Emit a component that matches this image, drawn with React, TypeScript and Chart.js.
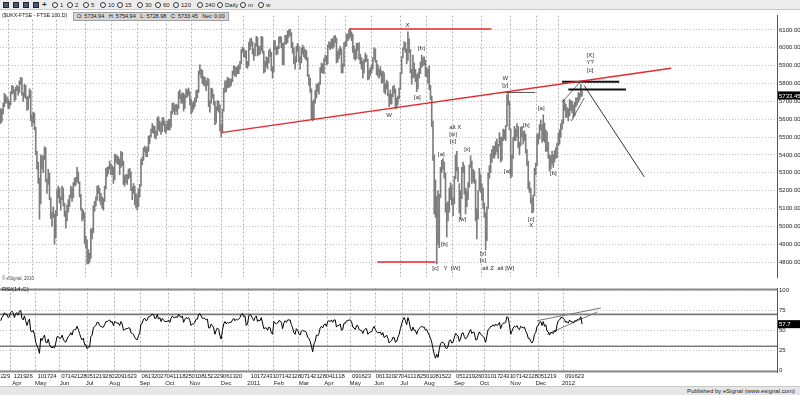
import React, { useEffect, useRef } from "react";
import { Chart, registerables } from "chart.js";
Chart.register(...registerables);

// ---------------- DATA ----------------
const HOLIDAYS = [
  "2010-04-02", "2010-04-05", "2010-05-03", "2010-05-31", "2010-08-30", "2010-12-27", "2010-12-28",
  "2011-01-03", "2011-04-22", "2011-04-25", "2011-04-29", "2011-05-02", "2011-05-30", "2011-08-29",
  "2011-12-26", "2011-12-27", "2012-01-02",
];
const MONTHS = ["Jan", "Feb", "Mar", "Apr", "May", "Jun", "Jul", "Aug", "Sep", "Oct", "Nov", "Dec"];

const highs = [
  // 2010 Mar
  5660, 5655, 5690, 5745, 5735, 5725, 5715, 5700,
  // Apr
  5755, 5790, 5785, 5765, 5780, 5790, 5780, 5815, 5835, 5830, 5750, 5795, 5790, 5725, 5730, 5770, 5760, 5625, 5640, 5635,
  // May
  5555, 5420, 5360, 5270, 5400, 5395, 5395, 5445, 5440, 5265, 5320, 5300, 5160, 5080, 5110, 5070, 5090, 5205, 5225,
  // Jun
  5215, 5165, 5225, 5215, 5130, 5085, 5120, 5150, 5175, 5225, 5215, 5245, 5270, 5275, 5330, 5305, 5250, 5180, 5100, 5090, 5075, 4945,
  // Jul
  4925, 4870, 4850, 4985, 4990, 5115, 5140, 5165, 5225, 5230, 5215, 5185, 5165, 5155, 5225, 5325, 5330, 5335, 5365, 5350, 5340, 5330,
  // Aug
  5405, 5400, 5395, 5390, 5375, 5420, 5415, 5365, 5285, 5290, 5290, 5320, 5325, 5305, 5220, 5240, 5225, 5185, 5175, 5210, 5235,
  // Sep
  5375, 5390, 5440, 5450, 5440, 5445, 5505, 5510, 5545, 5575, 5565, 5560, 5535, 5610, 5615, 5590, 5580, 5610, 5610, 5590, 5570, 5590,
  // Oct
  5600, 5600, 5645, 5690, 5690, 5680, 5685, 5680, 5755, 5765, 5740, 5750, 5745, 5735, 5770, 5765, 5775, 5755, 5715, 5690, 5700,
  // Nov
  5720, 5760, 5765, 5870, 5905, 5880, 5875, 5840, 5835, 5815, 5830, 5825, 5705, 5775, 5770, 5740, 5700, 5670, 5705, 5700, 5680, 5570,
  // Dec
  5655, 5775, 5815, 5815, 5835, 5830, 5825, 5825, 5870, 5900, 5895, 5890, 5895, 5905, 5925, 5990, 6005, 6000, 5985, 5985, 5925,
  // 2011 Jan
  6030, 6050, 6055, 6035, 5995, 6025, 6065, 6060, 6010, 6010, 6065, 6060, 5980, 5925, 5950, 5945, 5985, 5995, 5975, 5895,
  // Feb
  6040, 6040, 6005, 6010, 6060, 6065, 6060, 6025, 6030, 6070, 6070, 6095, 6100, 6105, 6085, 6030, 6000, 5950, 6010, 6025,
  // Mar
  6010, 5950, 6000, 6015, 6005, 5990, 5985, 5945, 5850, 5830, 5770, 5700, 5710, 5760, 5795, 5800, 5805, 5890, 5915, 5910, 5940, 5960, 5955,
  // Apr
  6015, 6035, 6030, 6050, 6050, 6065, 6070, 6055, 5980, 5995, 6010, 5995, 5910, 6030, 6035, 6075, 6080, 6100,
  // May
  6105, 6090, 6075, 6010, 5990, 6025, 6025, 6030, 5965, 5945, 5925, 5935, 5970, 5960, 5935, 5875, 5890, 5905, 5945, 6000,
  // Jun
  5995, 5930, 5905, 5880, 5895, 5870, 5870, 5860, 5800, 5820, 5810, 5745, 5765, 5740, 5785, 5790, 5770, 5720, 5730, 5775, 5860, 5950,
  // Jul
  6000, 6035, 6030, 5995, 6090, 6050, 5990, 5880, 5960, 5915, 5880, 5850, 5860, 5885, 5920, 5960, 5945, 5950, 5930, 5890, 5880,
  // Aug
  5900, 5790, 5730, 5590, 5400, 5260, 5170, 5200, 5180, 5330, 5370, 5380, 5360, 5300, 5130, 5140, 5215, 5245, 5230, 5160, 5280, 5400,
  // Sep
  5420, 5330, 5240, 5200, 5330, 5360, 5340, 5215, 5200, 5245, 5345, 5395, 5365, 5320, 5310, 5260, 5100, 5200, 5325, 5290, 5240, 5215,
  // Oct
  5130, 5075, 5110, 5300, 5340, 5405, 5430, 5450, 5450, 5475, 5490, 5460, 5525, 5500, 5500, 5545, 5540, 5565, 5735, 5750, 5700,
  // Nov
  5545, 5400, 5500, 5560, 5545, 5575, 5560, 5470, 5555, 5560, 5530, 5535, 5515, 5430, 5365, 5250, 5215, 5160, 5175, 5325, 5355, 5515,
  // Dec
  5520, 5570, 5595, 5570, 5625, 5580, 5540, 5530, 5470, 5400, 5395, 5420, 5400, 5425, 5440, 5465, 5520, 5540, 5575, 5595,
  // 2012 Jan
  5710, 5705, 5685, 5665, 5660, 5710, 5705, 5700, 5680, 5695, 5720, 5720, 5750, 5745, 5795, 5755,
];

const lows = [
  // 2010 Mar
  5575, 5585, 5630, 5670, 5690, 5690, 5660, 5660,
  // Apr
  5680, 5740, 5745, 5700, 5710, 5760, 5735, 5750, 5795, 5735, 5700, 5725, 5715, 5650, 5655, 5720, 5590, 5560, 5580, 5540,
  // May
  5400, 5320, 5240, 5040, 5125, 5320, 5300, 5375, 5250, 5185, 5235, 5150, 5045, 5000, 5050, 4900, 4935, 5060, 5160,
  // Jun
  5130, 5090, 5150, 5115, 5055, 4990, 5030, 5080, 5110, 5160, 5140, 5160, 5225, 5230, 5250, 5240, 5165, 5090, 5030, 5040, 4905, 4880,
  // Jul
  4790, 4790, 4800, 4820, 4930, 4965, 5085, 5115, 5145, 5185, 5140, 5120, 5100, 5090, 5140, 5210, 5280, 5295, 5320, 5290, 5290, 5240,
  // Aug
  5260, 5360, 5350, 5345, 5290, 5330, 5340, 5235, 5225, 5245, 5235, 5265, 5275, 5200, 5150, 5185, 5120, 5105, 5090, 5110, 5165,
  // Sep
  5225, 5345, 5370, 5415, 5390, 5390, 5420, 5465, 5500, 5525, 5520, 5495, 5490, 5510, 5540, 5530, 5515, 5530, 5565, 5530, 5520, 5540,
  // Oct
  5540, 5540, 5555, 5630, 5645, 5625, 5645, 5625, 5660, 5715, 5690, 5690, 5645, 5660, 5720, 5725, 5735, 5680, 5630, 5640, 5655,
  // Nov
  5670, 5695, 5720, 5750, 5850, 5830, 5800, 5790, 5785, 5760, 5790, 5670, 5640, 5690, 5720, 5680, 5570, 5580, 5650, 5640, 5535, 5500,
  // Dec
  5525, 5645, 5750, 5755, 5775, 5780, 5780, 5790, 5810, 5850, 5840, 5840, 5855, 5855, 5880, 5910, 5975, 5950, 5945, 5890, 5885,
  // 2011 Jan
  5900, 5990, 6010, 5965, 5930, 5955, 6010, 5955, 5960, 5965, 5985, 5970, 5860, 5865, 5895, 5880, 5915, 5950, 5870, 5830,
  // Feb
  5865, 5990, 5960, 5965, 5995, 6030, 6000, 5905, 5905, 6020, 6020, 6030, 6060, 6070, 6000, 5970, 5910, 5880, 5920, 5980,
  // Mar
  5920, 5880, 5915, 5965, 5950, 5940, 5930, 5840, 5790, 5750, 5600, 5590, 5600, 5690, 5720, 5755, 5740, 5795, 5860, 5860, 5855, 5925, 5905,
  // Apr
  5910, 6000, 5990, 6000, 5995, 6005, 6030, 5915, 5920, 5940, 5960, 5860, 5860, 5895, 6005, 6010, 6040, 6050,
  // May
  6060, 6040, 5975, 5940, 5930, 5940, 5985, 5935, 5910, 5880, 5830, 5860, 5920, 5925, 5820, 5825, 5845, 5860, 5880, 5935,
  // Jun
  5920, 5850, 5840, 5830, 5845, 5800, 5805, 5750, 5740, 5770, 5730, 5670, 5685, 5685, 5725, 5745, 5660, 5660, 5680, 5715, 5765, 5855,
  // Jul
  5945, 5990, 5975, 5910, 5930, 5975, 5860, 5795, 5830, 5835, 5810, 5755, 5770, 5830, 5855, 5890, 5900, 5905, 5840, 5835, 5800,
  // Aug
  5765, 5710, 5560, 5370, 5070, 5050, 4790, 4900, 4880, 5160, 5300, 5320, 5270, 5080, 4940, 5030, 5080, 5150, 5120, 5060, 5125, 5265,
  // Sep
  5310, 5250, 5075, 5040, 5155, 5300, 5180, 5070, 5110, 5150, 5220, 5330, 5240, 5250, 5240, 5030, 4930, 5040, 5200, 5190, 5150, 5100,
  // Oct
  5050, 4870, 4920, 5100, 5270, 5300, 5360, 5385, 5380, 5400, 5420, 5380, 5450, 5360, 5370, 5480, 5490, 5480, 5560, 5680, 5540,
  // Nov
  5270, 5280, 5380, 5480, 5480, 5500, 5440, 5400, 5450, 5500, 5460, 5480, 5410, 5340, 5210, 5190, 5130, 5075, 5080, 5170, 5290, 5340,
  // Dec
  5460, 5490, 5540, 5470, 5480, 5470, 5420, 5420, 5380, 5310, 5320, 5350, 5330, 5360, 5380, 5385, 5450, 5460, 5500, 5545,
  // 2012 Jan
  5575, 5650, 5610, 5610, 5590, 5620, 5650, 5635, 5610, 5620, 5670, 5680, 5695, 5710, 5725, 5729,
];

const rsi = [
  // 2010 Mar
  62, 66, 68, 72, 70, 70, 66, 67,
  // Apr
  72, 74, 72, 66, 71, 72, 69, 74, 75, 65, 63, 68, 62, 56, 61, 64, 49, 48, 50, 45,
  // May
  35, 31, 27, 21, 40, 37, 41, 44, 35, 34, 39, 32, 29, 28, 29, 28, 34, 42, 42,
  // Jun
  40, 40, 44, 39, 36, 35, 39, 42, 44, 47, 44, 50, 51, 51, 55, 51, 46, 41, 38, 40, 32, 32,
  // Jul
  27, 29, 29, 42, 44, 53, 55, 56, 60, 60, 56, 55, 54, 54, 57, 61, 61, 62, 63, 60, 61, 56,
  // Aug
  61, 60, 59, 59, 56, 61, 58, 50, 51, 52, 52, 53, 53, 47, 46, 45, 41, 39, 38, 43, 47,
  // Sep
  58, 59, 64, 65, 62, 63, 67, 67, 69, 70, 70, 65, 65, 70, 64, 66, 61, 65, 63, 61, 61, 61,
  // Oct
  63, 60, 65, 68, 66, 66, 67, 66, 70, 68, 66, 68, 60, 64, 66, 65, 66, 62, 56, 58, 58,
  // Nov
  60, 64, 64, 70, 71, 68, 65, 65, 65, 63, 64, 53, 53, 58, 56, 53, 45, 50, 53, 51, 43, 39,
  // Dec
  50, 58, 61, 58, 60, 59, 60, 60, 63, 65, 62, 64, 63, 64, 66, 70, 71, 67, 68, 56, 58,
  // 2011 Jan
  68, 70, 68, 65, 62, 66, 68, 61, 63, 62, 66, 59, 52, 53, 53, 50, 54, 53, 47, 45,
  // Feb
  61, 59, 58, 59, 62, 62, 60, 52, 59, 62, 60, 63, 63, 63, 57, 53, 47, 45, 52, 50,
  // Mar
  46, 44, 49, 50, 49, 49, 47, 41, 40, 36, 30, 23, 33, 36, 44, 43, 46, 53, 55, 53, 57, 58, 55,
  // Apr
  61, 62, 61, 63, 60, 63, 63, 54, 56, 56, 58, 50, 51, 59, 59, 62, 62, 63,
  // May
  63, 61, 54, 53, 51, 56, 56, 51, 50, 50, 46, 50, 52, 52, 45, 47, 48, 48, 52, 55,
  // Jun
  51, 48, 47, 47, 48, 44, 47, 41, 42, 44, 40, 34, 36, 37, 41, 41, 35, 36, 41, 45, 52, 58,
  // Jul
  63, 66, 62, 57, 66, 61, 52, 49, 54, 50, 50, 45, 50, 52, 54, 55, 54, 54, 50, 51, 47,
  // Aug
  44, 40, 35, 27, 20, 15, 20, 16, 26, 33, 35, 35, 33, 28, 27, 30, 37, 38, 34, 35, 41, 46,
  // Sep
  44, 43, 36, 39, 46, 47, 42, 39, 41, 44, 48, 51, 46, 48, 47, 38, 38, 44, 48, 45, 44, 42,
  // Oct
  40, 35, 43, 51, 52, 55, 55, 57, 55, 58, 56, 57, 60, 52, 57, 59, 59, 60, 67, 66, 57,
  // Nov
  45, 49, 53, 55, 54, 56, 52, 51, 55, 54, 53, 54, 49, 46, 40, 40, 36, 34, 37, 45, 47, 55,
  // Dec
  56, 60, 61, 56, 61, 55, 57, 49, 48, 44, 47, 47, 46, 50, 48, 57, 62, 63, 66, 66,
  // 2012 Jan
  65, 63, 60, 61, 59, 63, 61, 61, 59, 62, 62, 63, 64, 64, 67, 57.7,
];

const LAST_CLOSE = 5733.45;
const LAST_RSI = 57.7;
const FUTURE_SLOTS = 155;

// wave labels: bar index, price, text
const waveLabels = [
  { i: 324.6, p: 6127, t: "X" },
  { i: 335.8, p: 5998, t: "[b]" },
  { i: 332.5, p: 5724, t: "[a]" },
  { i: 310, p: 5621, t: "W" },
  { i: 362.8, p: 5557, t: "alt X" },
  { i: 361, p: 5514, t: "[w]" },
  { i: 361, p: 5476, t: "[c]" },
  { i: 351.7, p: 5406, t: "[a]" },
  { i: 372.4, p: 5433, t: "[x]" },
  { i: 354, p: 4901, t: "[b]" },
  { i: 368.4, p: 5041, t: "[w]" },
  { i: 385, p: 4847, t: "[y]" },
  { i: 385, p: 4810, t: "[x]" },
  { i: 347, p: 4767, t: "[c]" },
  { i: 355, p: 4767, t: "Y" },
  { i: 363, p: 4767, t: "[W]" },
  { i: 397, p: 4767, t: "alt Z  alt [W]" },
  { i: 402.7, p: 5831, t: "W" },
  { i: 402.7, p: 5788, t: "[y]" },
  { i: 419.5, p: 5568, t: "[b]" },
  { i: 404.3, p: 5310, t: "[a]" },
  { i: 431.4, p: 5659, t: "[a]" },
  { i: 441, p: 5299, t: "[b]" },
  { i: 423.4, p: 5041, t: "[c]" },
  { i: 423.4, p: 5003, t: "X" },
  { i: 470.5, p: 5960, t: "[X]" },
  { i: 470.5, p: 5917, t: "Y?" },
  { i: 470.5, p: 5874, t: "[c]" },
];

// drawn lines: [index, price] endpoints
const redTrend = [[176, 5525], [535, 5885]];
const redTop = [[278, 6105], [391.6, 6105]];
const redBottom = [[300.6, 4800], [347, 4800]];
const blackLevel1 = [[448, 5810], [493.6, 5810]];
const blackLevel2 = [[453, 5767], [499, 5767]];
const greyLevel = [[402.7, 5750], [426.6, 5750]];
const projection = [[465.7, 5788], [513.6, 5277]];
const diagUpper = [[448.2, 5697], [463.3, 5815]];
const diagLower = [[455.3, 5590], [465.7, 5719]];
const rsiUpper = [[428, 62], [479, 78]];
const rsiLower = [[436, 45], [476, 73]];
const RSI_BANDS = [70, 30];

// ---------------- helpers ----------------
const FONT = "'Liberation Sans', Arial, sans-serif";
const TOTAL = highs.length + FUTURE_SLOTS;

function buildDays(n: number) {
  const out: Date[] = [];
  const d = new Date(Date.UTC(2010, 2, 22));
  const hol = new Set(HOLIDAYS);
  while (out.length < n) {
    const wd = d.getUTCDay();
    const key = d.toISOString().slice(0, 10);
    if (wd !== 0 && wd !== 6 && !hol.has(key)) out.push(new Date(d.getTime()));
    d.setUTCDate(d.getUTCDate() + 1);
  }
  return out;
}

function buildAxis() {
  const days = buildDays(highs.length);
  const labels: Record<number, string> = {};
  const months: { i: number; t: string }[] = [];
  const monthSet = new Set<number>();
  const ticks: number[] = [];
  const firstKey = days[0].getUTCFullYear() * 12 + days[0].getUTCMonth();
  const done = new Set<number>();
  for (let i = 0; i < days.length; i++) {
    const d = days[i];
    const prev = i > 0 ? days[i - 1] : null;
    if (prev && prev.getUTCMonth() !== d.getUTCMonth()) monthSet.add(i);
    if (d.getUTCDay() === 1) {
      const key = d.getUTCFullYear() * 12 + d.getUTCMonth();
      labels[i] = String(d.getUTCDate()).padStart(2, "0");
      if (key !== firstKey && !done.has(key)) {
        done.add(key);
        const m = d.getUTCMonth();
        months.push({ i, t: m === 0 ? String(d.getUTCFullYear()) : MONTHS[m] });
      }
    }
  }
  for (let i = 0; i < days.length; i++) if (labels[i] !== undefined || monthSet.has(i)) ticks.push(i);
  return { labels, monthSet, ticks, months };
}

const seg = (pts: number[][]) => pts.map(([x, y]) => ({ x, y }));

function lineDs(pts: number[][], color: string, width: number) {
  return {
    type: "line" as const,
    data: seg(pts),
    borderColor: color,
    borderWidth: width,
    pointRadius: 0,
    fill: false,
    tension: 0,
    order: 0,
  };
}

function xScale(axis: any, showLabels: boolean) {
  return {
    type: "linear",
    min: -0.5,
    max: TOTAL - 0.5,
    offset: false,
    afterBuildTicks: (s: any) => {
      s.ticks = axis.ticks.map((v: number) => ({ value: v }));
    },
    afterFit: (s: any) => {
      s.paddingLeft = 0;
      s.paddingRight = 0;
      s.height = showLabels ? 14 : 0;
    },
    grid: {
      color: (c: any) => (c.tick && axis.monthSet.has(c.tick.value) ? "#b4b4b4" : "rgba(0,0,0,0)"),
      lineWidth: 1,
      drawTicks: false,
      borderDash: [2, 2],
    },
    border: { display: false, dash: [2, 2] },
    ticks: {
      display: showLabels,
      autoSkip: false,
      maxRotation: 0,
      minRotation: 0,
      padding: 1,
      color: "#222",
      font: { family: FONT, size: 6 },
      callback: (v: any) => (axis.labels[v] !== undefined ? axis.labels[v] : ""),
    },
  };
}

function yScale(min: number, max: number, step: number, fmt: (v: number) => string) {
  return {
    type: "linear",
    position: "right",
    min,
    max,
    afterFit: (s: any) => {
      s.width = 23;
    },
    grid: { color: "#c4c4c4", lineWidth: 1, drawTicks: false, borderDash: [1, 2] },
    border: { display: true, color: "#555", width: 1, dash: [1, 2] },
    ticks: {
      stepSize: step,
      includeBounds: false,
      padding: 2,
      color: "#222",
      font: { family: FONT, size: 6 },
      callback: (v: any) => fmt(Number(v)),
    },
  };
}

function valueBox(chart: any, scaleId: string, value: number, text: string) {
  const ctx = chart.ctx;
  const y = chart.scales[scaleId].getPixelForValue(value);
  const x0 = chart.chartArea.right + 1;
  ctx.save();
  ctx.fillStyle = "#000";
  ctx.fillRect(x0, y - 4, 22, 8);
  ctx.fillStyle = "#fff";
  ctx.font = `6px ${FONT}`;
  ctx.textBaseline = "middle";
  ctx.textAlign = "left";
  ctx.fillText(text, x0 + 1, y + 0.5);
  ctx.restore();
}

export default function App() {
  const priceRef = useRef<HTMLCanvasElement>(null);
  const rsiRef = useRef<HTMLCanvasElement>(null);

  useEffect(() => {
    const axis = buildAxis();
    const bars = highs.map((h, i) => ({ x: i, y: [lows[i], h] }));

    const pricePlugin = {
      id: "priceExtras",
      afterDatasetsDraw(chart: any) {
        const { ctx, scales } = chart;
        ctx.save();
        ctx.fillStyle = "#2a2a2a";
        ctx.font = `6px ${FONT}`;
        ctx.textAlign = "center";
        ctx.textBaseline = "middle";
        waveLabels.forEach((w) => {
          ctx.fillText(w.t, scales.x.getPixelForValue(w.i), scales.y.getPixelForValue(w.p));
        });
        ctx.restore();
      },
      afterDraw(chart: any) {
        valueBox(chart, "y", LAST_CLOSE, LAST_CLOSE.toFixed(2));
      },
    };

    const price = new Chart(priceRef.current as HTMLCanvasElement, {
      type: "bar",
      data: {
        datasets: [
          {
            type: "bar",
            data: bars as any,
            backgroundColor: "#7d7d7d",
            borderWidth: 0,
            barThickness: 1,
            grouped: false,
            order: 1,
          } as any,
          lineDs(redTrend, "#e4282c", 1.5),
          lineDs(redTop, "#e4282c", 1.5),
          lineDs(redBottom, "#e4282c", 1.5),
          lineDs(blackLevel1, "#111", 2),
          lineDs(blackLevel2, "#111", 2),
          lineDs(greyLevel, "#555", 1),
          lineDs(projection, "#333", 1),
          lineDs(diagUpper, "#444", 0.8),
          lineDs(diagLower, "#444", 0.8),
        ] as any,
      },
      options: {
        animation: false,
        responsive: false,
        devicePixelRatio: 1,
        events: [],
        layout: { padding: 0 },
        plugins: { legend: { display: false }, tooltip: { enabled: false } },
        scales: {
          x: xScale(axis, false) as any,
          y: yScale(4714, 6180.6, 100, (v) => v.toFixed(2)) as any,
        },
      },
      plugins: [pricePlugin],
    });

    const rsiPlugin = {
      id: "rsiExtras",
      beforeDatasetsDraw(chart: any) {
        const { ctx, chartArea } = chart;
        ctx.save();
        ctx.strokeStyle = "#8a8a8a";
        ctx.lineWidth = 2;
        ctx.beginPath();
        ctx.moveTo(0, chartArea.top + 1);
        ctx.lineTo(chartArea.right, chartArea.top + 1);
        ctx.moveTo(0, chartArea.bottom - 0.5);
        ctx.lineTo(chartArea.right, chartArea.bottom - 0.5);
        ctx.stroke();
        ctx.restore();
      },
      afterDraw(chart: any) {
        valueBox(chart, "y", LAST_RSI, String(LAST_RSI));
        const { ctx, chartArea, scales } = chart;
        ctx.save();
        ctx.fillStyle = "#222";
        ctx.font = `6px ${FONT}`;
        ctx.textAlign = "center";
        ctx.textBaseline = "top";
        axis.months.forEach((m: any) => {
          ctx.fillText(m.t, scales.x.getPixelForValue(m.i), chartArea.bottom + 8);
        });
        ctx.restore();
      },
    };

    const rsiChart = new Chart(rsiRef.current as HTMLCanvasElement, {
      type: "line",
      data: {
        datasets: [
          {
            data: rsi.map((v, i) => ({ x: i, y: v })),
            borderColor: "#000",
            borderWidth: 1,
            pointRadius: 0,
            tension: 0,
            fill: false,
          },
          ...RSI_BANDS.map((b) => lineDs([[-0.5, b], [TOTAL - 0.5, b]], "#7a7a7a", 1.6)),
          lineDs(rsiUpper, "#555", 0.8),
          lineDs(rsiLower, "#555", 0.8),
        ] as any,
      },
      options: {
        animation: false,
        responsive: false,
        devicePixelRatio: 1,
        events: [],
        layout: { padding: 0 },
        plugins: { legend: { display: false }, tooltip: { enabled: false } },
        scales: {
          x: xScale(axis, true) as any,
          y: yScale(-2.35, 102.35, 25, (v) => String(v)) as any,
        },
      },
      plugins: [rsiPlugin],
    });

    return () => {
      price.destroy();
      rsiChart.destroy();
    };
  }, []);

  const tools = [
    { x: 52, t: "1" }, { x: 67, t: "2" }, { x: 83, t: "5" }, { x: 100, t: "10" }, { x: 117, t: "15" },
    { x: 137, t: "30" }, { x: 155, t: "60" }, { x: 173, t: "120" }, { x: 197, t: "240" },
    { x: 217, t: "Daily" }, { x: 240, t: "m" }, { x: 258, t: "w" },
  ];
  const txt = { position: "absolute" as const, fontFamily: FONT, fontSize: 6, color: "#222", lineHeight: "7px", whiteSpace: "pre" as const };

  return (
    <div style={{ position: "fixed", left: 0, top: 0, width: 800, height: 395, background: "#fff", overflow: "hidden" }}>
      <div style={{ position: "absolute", left: 0, top: 0, width: 800, height: 10, background: "#ececec", borderBottom: "1px solid #c9c9c9", boxSizing: "border-box" }}>
        {[3, 13, 23, 33].map((x) => (
          <div key={x} style={{ position: "absolute", left: x, top: 2, width: 6, height: 6, background: "#4a5a7a", border: "1px solid #223", boxSizing: "border-box" }} />
        ))}
        <div style={{ ...txt, left: 42, top: 1, fontSize: 8, fontWeight: "bold" }}>+</div>
        {tools.map((t) => (
          <React.Fragment key={t.t}>
            <div style={{ position: "absolute", left: t.x, top: 2, width: 6, height: 6, borderRadius: "50%", border: "1px solid #333", boxSizing: "border-box", background: "#fafafa" }} />
            <div style={{ ...txt, left: t.x + 8, top: 1.5 }}>{t.t}</div>
          </React.Fragment>
        ))}
      </div>
      <canvas ref={priceRef} width={800} height={273} style={{ position: "absolute", left: 0, top: 10, width: 800, height: 273 }} />
      <canvas ref={rsiRef} width={800} height={103} style={{ position: "absolute", left: 0, top: 283, width: 800, height: 103 }} />
      <div style={{ ...txt, left: 2, top: 12, fontSize: 5.2, color: "#111", background: "#fff" }}>($UKX-FTSE - FTSE 100,D)</div>
      <div style={{ ...txt, left: 73, top: 12, height: 7, padding: "0 3px", background: "#d6d6d6", border: "1px solid #a0a0a0", color: "#111", fontSize: 5.5 }}>
        O: 5734.94   H: 5754.94   L: 5728.98   C: 5733.45   Net: 0.00
      </div>
      <div style={{ ...txt, left: 2, top: 275, fontSize: 4.5, color: "#444" }}>© eSignal, 2010</div>
      <div style={{ ...txt, left: 2, top: 286, color: "#111" }}>RSI(14,C)</div>
      <div style={{ position: "absolute", left: 0, top: 386, width: 800, height: 9, background: "#e6e6e6", borderTop: "1px solid #c9c9c9", boxSizing: "border-box" }}>
        <div style={{ ...txt, right: 5, top: 1 }}>Published by eSignal (www.esignal.com)</div>
      </div>
    </div>
  );
}
